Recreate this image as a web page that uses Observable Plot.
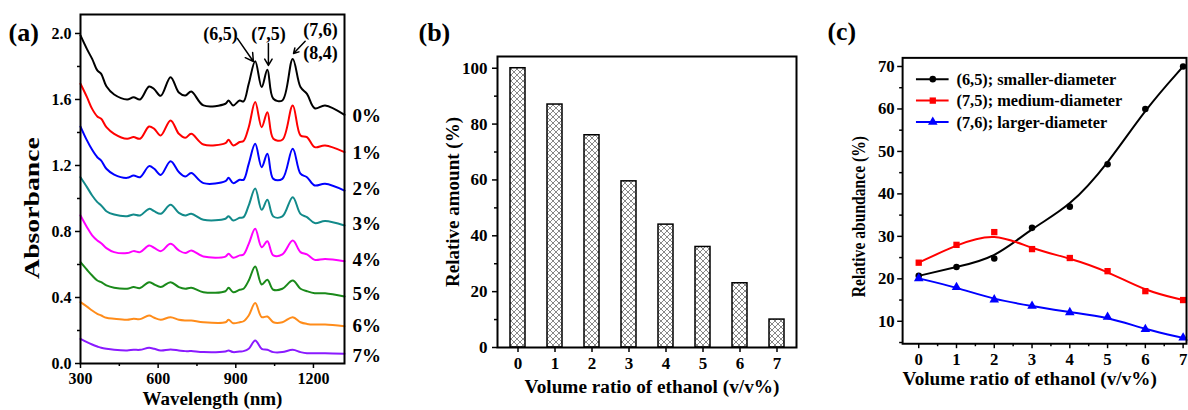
<!DOCTYPE html>
<html><head><meta charset="utf-8">
<script src="https://cdn.jsdelivr.net/npm/d3@7"></script>
<script src="https://cdn.jsdelivr.net/npm/@observablehq/plot@0.6"></script>
<style>
body{margin:0;background:#fff;}
#wrap{position:relative;width:1188px;height:410px;overflow:hidden;background:#fff;}
.panel{position:absolute;top:0;}
svg{overflow:visible;}
</style></head><body><div id="wrap"></div>
<svg width="0" height="0" style="position:absolute">
 <defs>
  <pattern id="xhatch" width="6" height="6" patternUnits="userSpaceOnUse">
   <rect width="6" height="6" fill="#fff"/>
   <path d="M0,0L6,6M6,0L0,6M-1,5L1,7M5,-1L7,1M-1,1L1,-1M5,7L7,5" stroke="#555" stroke-width="0.7"/>
  </pattern>
 </defs>
</svg>
<script>
// ---------- Panel (a) data ----------
const wavelengths = [300,325,345,365,380,400,430,480,505,530,565,585,610,648,680,705,728,775,860,872,890,915,930,950,975,1000,1022,1045,1080,1120,1150,1175,1205,1245,1320];
const abs0 = [1.988,1.905,1.846,1.776,1.755,1.680,1.630,1.600,1.614,1.600,1.679,1.662,1.622,1.735,1.642,1.624,1.648,1.564,1.574,1.594,1.564,1.594,1.588,1.695,1.832,1.675,1.780,1.604,1.594,1.846,1.675,1.634,1.547,1.564,1.507];
const abs1 = [1.695,1.614,1.543,1.497,1.483,1.432,1.392,1.362,1.372,1.362,1.436,1.422,1.382,1.473,1.392,1.368,1.392,1.327,1.335,1.356,1.321,1.342,1.348,1.432,1.584,1.432,1.523,1.362,1.356,1.564,1.382,1.372,1.311,1.321,1.281];
const abs2 = [1.436,1.352,1.295,1.250,1.230,1.180,1.145,1.125,1.139,1.129,1.196,1.180,1.143,1.226,1.160,1.133,1.154,1.093,1.105,1.125,1.093,1.113,1.113,1.210,1.331,1.190,1.271,1.119,1.119,1.301,1.150,1.129,1.079,1.089,1.048];
const abs3 = [1.129,1.069,1.018,0.978,0.958,0.923,0.903,0.893,0.903,0.897,0.937,0.923,0.907,0.962,0.913,0.897,0.907,0.871,0.877,0.893,0.867,0.883,0.887,0.958,1.060,0.931,0.992,0.891,0.891,1.008,0.907,0.887,0.851,0.863,0.836];
const abs4 = [0.897,0.826,0.776,0.745,0.729,0.699,0.675,0.669,0.681,0.675,0.715,0.701,0.681,0.725,0.685,0.669,0.685,0.648,0.648,0.665,0.641,0.655,0.661,0.725,0.816,0.705,0.741,0.655,0.661,0.745,0.675,0.661,0.628,0.634,0.620];
const abs5 = [0.614,0.568,0.533,0.503,0.493,0.473,0.459,0.453,0.463,0.457,0.493,0.479,0.463,0.493,0.463,0.453,0.459,0.432,0.438,0.459,0.432,0.447,0.453,0.503,0.588,0.479,0.507,0.447,0.453,0.503,0.453,0.438,0.426,0.426,0.406];
const abs6 = [0.372,0.345,0.321,0.301,0.291,0.277,0.271,0.265,0.271,0.269,0.291,0.277,0.265,0.281,0.265,0.261,0.261,0.250,0.250,0.265,0.244,0.250,0.256,0.291,0.366,0.281,0.285,0.250,0.250,0.281,0.250,0.240,0.236,0.236,0.226];
const abs7 = [0.149,0.129,0.115,0.103,0.095,0.089,0.083,0.079,0.083,0.083,0.095,0.089,0.079,0.085,0.079,0.075,0.075,0.069,0.073,0.079,0.069,0.073,0.075,0.089,0.139,0.089,0.083,0.069,0.069,0.083,0.069,0.062,0.062,0.062,0.059];
const spectraColors = ["#000000","#ff0000","#0000ff","#128a8a","#ff00ff","#1a8a1a","#ff8c1a","#8a1aff"];
const ratioLabels = ["0%","1%","2%","3%","4%","5%","6%","7%"];
const ratioLabelA = [1.503,1.279,1.061,0.848,0.630,0.424,0.230,0.048];
const peakLabels = ["(6,5)","(7,5)","(7,6)","(8,4)"];
const peakLabelWl = [841,1026,1227,1227];
const peakLabelA = [1.994,1.994,2.018,1.879];
const arrowWlFrom = [906,1026,1168];
const arrowAFrom = [1.970,1.940,1.953];
const arrowWlTo = [968,1026,1123];
const arrowATo = [1.830,1.806,1.879];

// ---------- Panel (b) data ----------
const ratios = [0,1,2,3,4,5,6,7];
const relAmount = [100,87,76,59.5,44,36,23,10];

// ---------- Panel (c) data ----------
const abSmall = [20.7,22.8,24.8,32,37,47,60,70];
const abMedium = [23.8,28,31,27,24.9,21.8,17.1,15];
const abLarge = [20.1,18,15.1,13.6,12.1,11,8.1,6.1];
const legendNames = ["(6,5); smaller-diameter","(7,5); medium-diameter","(7,6); larger-diameter"];
const seriesColors = ["#000000","#ff0000","#0000ff"];
const seriesSymbols = ["circle","square","triangle"];

const FONT = "Liberation Serif";
const baseStyle = {fontFamily: FONT, fontWeight: "bold", fontSize: "16px", color: "black", background: "transparent", overflow: "visible"};
const wrap = document.getElementById("wrap");
function place(svg, left){ const d=document.createElement("div"); d.className="panel"; d.style.left=left+"px"; d.appendChild(svg); wrap.appendChild(d); return svg; }
// stretch a text along its own direction, about its own centre
function stretch(svg, str, len){
  d3.select(svg).selectAll("text").filter(function(){return this.textContent===str;}).each(function(){
    const bb = this.getBBox();
    if (!bb.width) return;
    const s = len / bb.width;
    const cx = bb.x + bb.width/2, cy = bb.y + bb.height/2;
    const t = this.getAttribute("transform") || "";
    this.setAttribute("transform", `${t} translate(${cx},${cy}) scale(${s},1) translate(${-cx},${-cy})`);
  });
}
const fmt = d => String(d);

// ---------- Panel (a) ----------
const spectra = [abs0,abs1,abs2,abs3,abs4,abs5,abs6,abs7];
const lineMarksA = spectra.map((arr, k) => Plot.line(wavelengths.map((w,i)=>({w, a: arr[i]})), {x:"w", y:"a", stroke: spectraColors[k], strokeWidth: 2, curve: "catmull-rom"}));
const ratioRows = ratioLabels.map((t,i)=>({t, a: ratioLabelA[i]}));
const peakRows = peakLabels.map((t,i)=>({t, w: peakLabelWl[i], a: peakLabelA[i]}));
const arrowRows = arrowWlFrom.map((w,i)=>({w1:w, a1:arrowAFrom[i], w2:arrowWlTo[i], a2:arrowATo[i]}));

const plotA = Plot.plot({
  width: 400, height: 410,
  marginLeft: 80, marginRight: 56, marginTop: 14, marginBottom: 47,
  x: {domain: [300, 1320]},
  y: {domain: [0, 2.115]},
  style: baseStyle,
  marks: [
    ...lineMarksA,
    Plot.axisY([0,0.4,0.8,1.2,1.6,2.0], {tickSize: 5, tickPadding: 4, tickFormat: d3.format(".1f"), label: null, strokeWidth: 1.5, fontSize: 16}),
    Plot.axisY([0.2,0.6,1.0,1.4,1.8], {tickSize: 3, tickFormat: () => "", label: null, strokeWidth: 1.5}),
    Plot.axisX([300,600,900,1200], {tickSize: 5, tickPadding: 4, tickFormat: fmt, label: null, strokeWidth: 1.5, fontSize: 16}),
    Plot.axisX([450,750,1050], {tickSize: 3, tickFormat: () => "", label: null, strokeWidth: 1.5}),
    Plot.frame({stroke: "black", strokeWidth: 2}),
    Plot.text(ratioRows, {y: "a", text: "t", frameAnchor: "right", dx: 8, textAnchor: "start", lineAnchor: "middle", fontSize: 19, fontWeight: "bold"}),
    Plot.text(peakRows, {x: "w", y: "a", text: "t", fontSize: 18, fontWeight: "bold"}),
    Plot.arrow(arrowRows, {x1: "w1", y1: "a1", x2: "w2", y2: "a2", stroke: "black", strokeWidth: 1.5, headLength: 9}),
    Plot.text(["Absorbance"], {text: d => d, frameAnchor: "left", textAnchor: "middle", lineAnchor: "middle", dx: -48, dy: 19, rotate: -90, fontSize: 20, fontWeight: "bold"}),
    Plot.text(["Wavelength (nm)"], {text: d => d, frameAnchor: "bottom", textAnchor: "middle", lineAnchor: "middle", dy: 35, fontSize: 19, fontWeight: "bold"}),
    Plot.text(["(a)"], {text: d => d, frameAnchor: "top-left", lineAnchor: "middle", dx: -72, dy: 18, textAnchor: "start", fontSize: 26, fontWeight: "bold"})
  ]
});
place(plotA, 0);
stretch(plotA, "Absorbance", 142);

// ---------- Panel (b) ----------
const barRows = ratios.map((r,i)=>({r, v: relAmount[i]}));
const plotB = Plot.plot({
  width: 400, height: 410,
  marginLeft: 97, marginRight: 4, marginTop: 56, marginBottom: 63,
  x: {type: "band", domain: ratios, paddingInner: 0.6, paddingOuter: 0.3},
  y: {domain: [0, 104.2]},
  style: baseStyle,
  marks: [
    Plot.barY(barRows, {x: "r", y: "v", fill: "url(#xhatch)", stroke: "black", strokeWidth: 1.5}),
    Plot.axisY([0,20,40,60,80,100], {tickSize: 5, tickPadding: 5, tickFormat: fmt, label: null, strokeWidth: 1.5, fontSize: 17}),
    Plot.axisY([10,30,50,70,90], {tickSize: 3, tickFormat: () => "", label: null, strokeWidth: 1.5}),
    Plot.axisX({tickSize: 5, tickPadding: 4, tickFormat: fmt, label: null, strokeWidth: 1.5, fontSize: 17}),
    Plot.frame({stroke: "black", strokeWidth: 2}),
    Plot.text(["Relative amount (%)"], {text: d => d, frameAnchor: "left", textAnchor: "middle", lineAnchor: "middle", dx: -45, dy: 0, rotate: -90, fontSize: 19, fontWeight: "bold"}),
    Plot.text(["Volume ratio of ethanol (v/v%)"], {text: d => d, frameAnchor: "bottom", textAnchor: "middle", lineAnchor: "middle", dx: 5, dy: 39, fontSize: 19, fontWeight: "bold"}),
    Plot.text(["(b)"], {text: d => d, frameAnchor: "top-left", lineAnchor: "middle", dx: -79, dy: -24, textAnchor: "start", fontSize: 26, fontWeight: "bold"})
  ]
});
place(plotB, 400);
stretch(plotB, "Volume ratio of ethanol (v/v%)", 255);
stretch(plotB, "Relative amount (%)", 170);

// ---------- Panel (c) ----------
const seriesC = [abSmall, abMedium, abLarge];
const marksC = [];
seriesC.forEach((arr,k) => {
  const rows = ratios.map((r,i)=>({r, v: arr[i]}));
  marksC.push(Plot.line(rows, {x: "r", y: "v", stroke: seriesColors[k], strokeWidth: 2, curve: "basis"}));
  marksC.push(Plot.dot(rows, {x: "r", y: "v", fill: seriesColors[k], symbol: seriesSymbols[k], r: k===0 ? 3.3 : 3.6}));
});
const plotC = Plot.plot({
  width: 372, height: 410,
  marginLeft: 83, marginRight: 2, marginTop: 58, marginBottom: 63,
  x: {domain: [-0.427, 7.09]},
  y: {domain: [4.71, 72.03]},
  style: baseStyle,
  marks: [
    ...marksC,
    Plot.axisY([10,20,30,40,50,60,70], {tickSize: 5, tickPadding: 3, tickFormat: fmt, label: null, strokeWidth: 1.5, fontSize: 17}),
    Plot.axisY([5,15,25,35,45,55,65], {tickSize: 3, tickFormat: () => "", label: null, strokeWidth: 1.5}),
    Plot.axisX(ratios, {tickSize: 5, tickPadding: 4, tickFormat: fmt, label: null, strokeWidth: 1.5, fontSize: 17}),
    Plot.axisX([0.5,1.5,2.5,3.5,4.5,5.5,6.5], {tickSize: 3, tickFormat: () => "", label: null, strokeWidth: 1.5}),
    Plot.frame({stroke: "black", strokeWidth: 2}),
    Plot.text(["Relative abundance (%)"], {text: d => d, frameAnchor: "left", textAnchor: "middle", lineAnchor: "middle", dx: -44, dy: 16, rotate: -90, fontSize: 19, fontWeight: "bold"}),
    Plot.text(["Volume ratio of ethanol (v/v%)"], {text: d => d, frameAnchor: "bottom", textAnchor: "middle", lineAnchor: "middle", dx: -15, dy: 36, fontSize: 19, fontWeight: "bold"}),
    Plot.text(["(c)"], {text: d => d, frameAnchor: "top-left", lineAnchor: "middle", dx: -76, dy: -26, textAnchor: "start", fontSize: 26, fontWeight: "bold"})
  ]
});
place(plotC, 820);
stretch(plotC, "Volume ratio of ethanol (v/v%)", 257);
stretch(plotC, "Relative abundance (%)", 163);

// legend for (c)
const lg = d3.select(plotC).append("g").attr("font-family", FONT).attr("font-weight", "bold").attr("font-size", 16.5).attr("text-anchor", "start");
const legendY = [80, 101.7, 123.3];
const symMap = {circle: d3.symbolCircle, square: d3.symbolSquare, triangle: d3.symbolTriangle};
legendNames.forEach((name,k) => {
  const y = legendY[k];
  lg.append("line").attr("x1", 97).attr("x2", 130).attr("y1", y).attr("y2", y).attr("stroke", seriesColors[k]).attr("stroke-width", 2);
  const r = k===0 ? 3.3 : 3.6;
  lg.append("path").attr("d", d3.symbol(symMap[seriesSymbols[k]], Math.PI*r*r)()).attr("transform", `translate(114,${y})`).attr("fill", seriesColors[k]);
  lg.append("text").attr("x", 138).attr("y", y).attr("dy", "0.35em").attr("fill", "black").text(name);
});
</script>
</body></html>
